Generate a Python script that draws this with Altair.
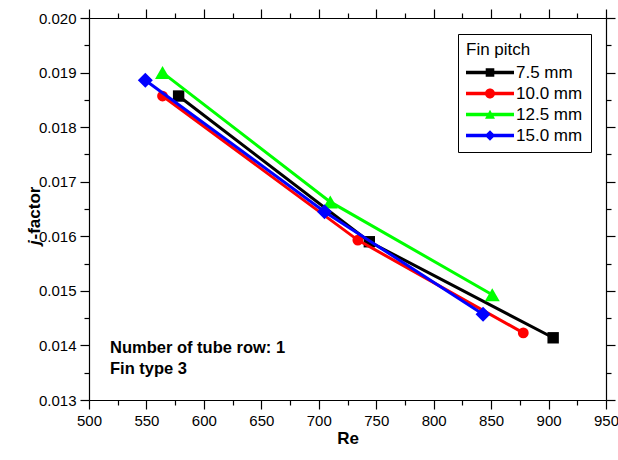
import altair as alt
import pandas as pd

# Fin pitch series: Reynolds number and Colburn j-factor
series_names = ["7.5 mm", "10.0 mm", "12.5 mm", "15.0 mm"]
re_75 = [578, 744, 904]
j_75 = [0.01857, 0.01590, 0.01414]
re_100 = [564, 734, 878]
j_100 = [0.01857, 0.01593, 0.01423]
re_125 = [564, 710, 851]
j_125 = [0.01900, 0.01663, 0.01493]
re_150 = [549, 705, 843]
j_150 = [0.01886, 0.01645, 0.01457]

series_colors = ["#000000", "#ff0000", "#00ff00", "#0000ff"]
marker_shapes = ["square", "circle", "triangle-up", "diamond"]
marker_sizes = [130, 117, 225, 225]

x_ticks = list(range(500, 951, 25))
y_ticks = [round(0.013 + 0.0005 * i, 4) for i in range(15)]

# legend glyphs: a line segment with the series marker on it
# (symbol unit = 8.5 px; line runs from the entry's left edge for 48 px)
LINE = "M-1,-0.194H4.647V0.194H-1Z "
legend_paths = [
    LINE + "M1.318,-0.506H2.330V0.506H1.318Z",
    LINE + "M1.236,0A0.588,0.588 0 1,1 2.412,0A0.588,0.588 0 1,1 1.236,0Z",
    LINE + "M1.824,-0.553L2.412,0.506L1.236,0.506Z",
    LINE + "M1.824,-0.624L2.448,0L1.824,0.624L1.200,0Z",
]

frames = []
for name, xs, ys in zip(series_names, [re_75, re_100, re_125, re_150],
                        [j_75, j_100, j_125, j_150]):
    frames.append(pd.DataFrame({"Re": xs, "j": ys, "pitch": name}))
df = pd.concat(frames, ignore_index=True)

FONT = "Liberation Sans"
x_scale = alt.Scale(domain=[500, 950], nice=False, zero=False)
y_scale = alt.Scale(domain=[0.013, 0.020], nice=False, zero=False)
color_scale = alt.Scale(domain=series_names, range=series_colors)

x_tick_size = {"condition": {"test": "datum.value % 50 === 0", "value": 9}, "value": 5}
y_tick_size = {"condition": {"test": "round(datum.value * 10000) % 10 === 0", "value": 9}, "value": 5}

common_axis = dict(
    grid=False, domainColor="black", domainWidth=1.2,
    tickColor="black", tickWidth=1.2, labelColor="black",
    labelFont=FONT, labelFontSize=15, labelFlush=False, labelOverlap=False,
)

x_bottom = alt.Axis(
    **common_axis, values=x_ticks, orient="bottom", tickSize=x_tick_size,
    labelExpr="datum.value % 50 === 0 ? datum.label : ''", labelPadding=4,
    title="Re", titleFont=FONT, titleFontSize=17, titleFontWeight="bold",
    titleColor="black", titlePadding=2,
)
x_top = alt.Axis(
    **common_axis, values=x_ticks, orient="top", tickSize=x_tick_size,
    labels=False, title=None,
)
y_left = alt.Axis(
    **common_axis, values=y_ticks, orient="left", tickSize=y_tick_size,
    labelExpr="round(datum.value * 10000) % 10 === 0 ? format(datum.value, '.3f') : ''",
    labelPadding=4, title=None,
)
y_right = alt.Axis(
    **common_axis, values=y_ticks, orient="right", tickSize=y_tick_size,
    labels=False, title=None,
)

# one line + marker layer per series, each in its own colour
series_layers = []
for i, (name, shape, size, col) in enumerate(
        zip(series_names, marker_shapes, marker_sizes, series_colors)):
    sub = df[df["pitch"] == name]
    series_layers.append(
        alt.Chart(sub).mark_line(strokeWidth=3, color=col).encode(
            x=alt.X("Re:Q", scale=x_scale, axis=x_bottom if i == 0 else None),
            y=alt.Y("j:Q", scale=y_scale, axis=y_left if i == 0 else None),
            order=alt.Order("Re:Q"),
        )
    )
    series_layers.append(
        alt.Chart(sub).mark_point(
            shape=shape, size=size, filled=True, opacity=1, color=col
        ).encode(
            x=alt.X("Re:Q", scale=x_scale, axis=x_top if i == 0 else None),
            y=alt.Y("j:Q", scale=y_scale, axis=y_right if i == 0 else None),
        )
    )

legend_def = alt.Legend(
    title="Fin pitch", orient="none", legendX=369, legendY=16,
    titleFont=FONT, titleFontSize=17, titleFontWeight="normal", titleColor="black",
    titlePadding=5, labelFont=FONT, labelFontSize=17, labelColor="black",
    labelOffset=33, strokeColor="black", fillColor="white", padding=8,
    symbolSize=289, symbolStrokeWidth=0, symbolOpacity=1, rowPadding=3,
)

# carries the legend only; its own marks have zero size
legend_layer = alt.Chart(df).mark_point(filled=True, size=0).encode(
    x=alt.X("Re:Q", scale=x_scale, axis=None),
    y=alt.Y("j:Q", scale=y_scale, axis=None),
    color=alt.Color("pitch:N", scale=color_scale, legend=legend_def),
    shape=alt.Shape("pitch:N", scale=alt.Scale(domain=series_names, range=legend_paths),
                    legend=legend_def),
)

one_row = pd.DataFrame({"k": [0]})
y_title_j = alt.Chart(one_row).mark_text(
    text="j", font=FONT, fontSize=17, fontWeight="bold", fontStyle="italic",
    angle=270, align="left", baseline="middle", color="black",
).encode(x=alt.value(-54), y=alt.value(227))
y_title_rest = alt.Chart(one_row).mark_text(
    text="-factor", font=FONT, fontSize=17, fontWeight="bold",
    angle=270, align="left", baseline="middle", color="black",
).encode(x=alt.value(-54), y=alt.value(221.5))

note_1 = alt.Chart(one_row).mark_text(
    text="Number of tube row: 1", font=FONT, fontSize=16.5, fontWeight="bold",
    align="left", baseline="middle", color="black",
).encode(x=alt.value(21), y=alt.value(330))
note_2 = alt.Chart(one_row).mark_text(
    text="Fin type 3", font=FONT, fontSize=16.5, fontWeight="bold",
    align="left", baseline="middle", color="black",
).encode(x=alt.value(21), y=alt.value(351))

chart = alt.layer(
    *series_layers, legend_layer, y_title_j, y_title_rest, note_1, note_2
).resolve_axis(
    x="independent", y="independent"
).properties(
    width=517, height=382, autosize="none",
    padding={"left": 89, "top": 18, "right": 12, "bottom": 60},
    background="white",
).configure_view(stroke=None)

chart.save("out.html", embed_options={"renderer": "svg", "actions": False})
